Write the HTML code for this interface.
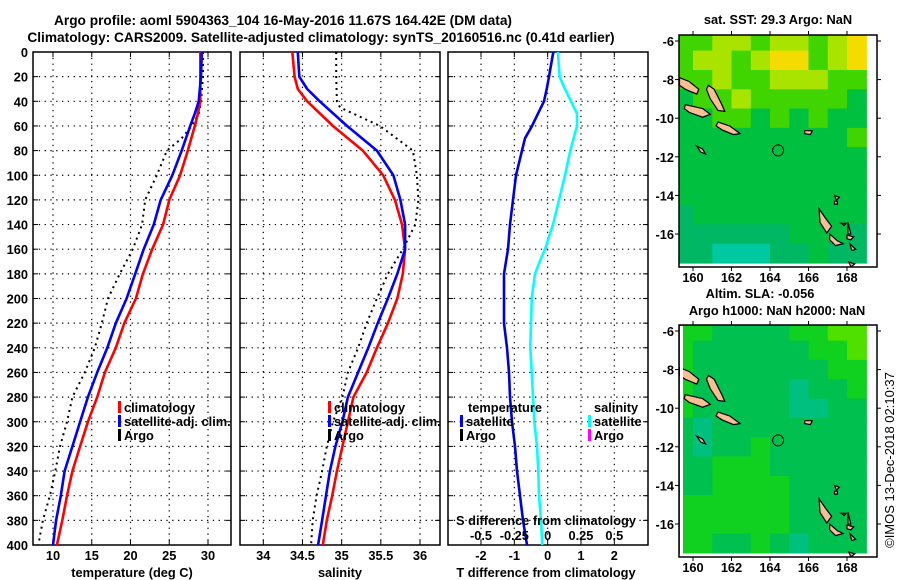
<!DOCTYPE html>
<html><head><meta charset="utf-8"><style>
html,body{margin:0;padding:0;background:#fff;width:900px;height:580px;overflow:hidden}
svg{display:block;font-family:"Liberation Sans",sans-serif;font-weight:bold}
</style></head><body>
<svg id="fig" width="900" height="580" viewBox="0 0 900 580">
<g>
<text x="283" y="25" font-size="13.7" text-anchor="middle">Argo profile: aoml 5904363_104 16-May-2016 11.67S 164.42E (DM data)</text>
<text x="321" y="42" font-size="13.7" text-anchor="middle">Climatology: CARS2009. Satellite-adjusted climatology: synTS_20160516.nc (0.41d earlier)</text>
</g>
<g id="p1"></g>
<g id="p2"></g>
<g id="p3"></g>
<g id="m1"></g>
<g id="m2"></g>
<text transform="translate(894,460) rotate(-90)" font-size="13" font-weight="normal" text-anchor="middle">©IMOS 13-Dec-2018 02:10:37</text>
</svg>
<script>
// ---- profile data ----
const tDepths = [0,20,40,50,60,80,100,120,140,160,180,200,220,240,260,280,300,320,340,360,380,400];
const tempClim = [29.0,29.0,29.0,28.7,28.3,27.4,26.4,25.0,24.2,22.8,21.6,20.7,19.2,18.1,16.7,15.7,14.5,13.5,12.5,11.8,11.2,10.5];
const tempSat = [29.2,29.1,28.8,28.3,27.7,26.6,25.4,23.9,23.0,21.7,20.6,19.5,18.1,17.0,15.7,14.5,13.5,12.5,11.5,11.0,10.4,10.0];
const argoTDepths = [0,20,40,50,60,70,80,100,120,140,160,180,200,220,240,260,280,300,320,340,360,380,400];
const tempArgo = [29.35,29.35,29.1,28.8,27.9,26.6,24.7,23.4,21.9,21.5,20.3,18.6,17.1,16.3,15.4,14.1,12.5,11.8,10.9,10.3,9.6,8.7,8.1];
const sDepths = [0,20,30,40,60,80,100,120,140,160,180,200,220,240,260,280,300,320,340,360,380,400];
const salClim = [34.37,34.40,34.44,34.56,34.89,35.27,35.53,35.68,35.77,35.81,35.78,35.71,35.59,35.45,35.32,35.15,35.08,35.01,34.94,34.88,34.81,34.76];
const salSat = [34.44,34.46,34.56,34.72,35.07,35.45,35.66,35.75,35.81,35.81,35.71,35.59,35.46,35.34,35.21,35.08,35.01,34.92,34.85,34.80,34.75,34.70];
const argoSDepths = [0,20,40,45,60,80,100,120,140,160,180,200,220,240,260,280,300,320,340,360,380,400];
const salArgo = [34.93,34.93,34.94,34.98,35.49,35.91,35.96,35.98,35.94,35.78,35.59,35.45,35.32,35.21,35.08,35.01,34.89,34.81,34.75,34.68,34.63,34.61];
const dDepths = [0,20,30,40,50,60,70,80,100,120,140,160,170,180,200,220,240,260,280,300,320,340,360,380,400];
const tDiffSat = [0.17,0.04,-0.03,-0.11,-0.29,-0.47,-0.68,-0.77,-0.95,-1.04,-1.13,-1.19,-1.25,-1.31,-1.31,-1.31,-1.22,-1.16,-1.13,-1.07,-0.98,-0.92,-0.83,-0.74,-0.62];
const sDiffSat = [0.077,0.09,0.13,0.175,0.22,0.22,0.195,0.17,0.13,0.085,0.04,-0.02,-0.06,-0.095,-0.12,-0.125,-0.13,-0.12,-0.11,-0.10,-0.08,-0.07,-0.065,-0.05,-0.04];
const depthTicks = [0,20,40,60,80,100,120,140,160,180,200,220,240,260,280,300,320,340,360,380,400];
const tempTicks = [10,15,20,25,30];
const salTicks = [34,34.5,35,35.5,36];
const salTickLabels = ["34","34.5","35","35.5","36"];
const tDiffTicks = [-2,-1,0,1,2];
const sDiffTicks = [-0.5,-0.25,0,0.25,0.5];
const sDiffTickLabels = ["-0.5","-0.25","0","0.25","0.5"];
// ---- map data (coarse cells, rows lat -6..-17, cols lon 159.5..169.5) ----
const mapLats = [-6,-7,-8,-9,-10,-11,-12,-13,-14,-15,-16,-17];
const mapLons = [159.5,160.5,161.5,162.5,163.5,164.5,165.5,166.5,167.5,168.5];
const sstLevels = [
[3,3,4,4,3,4,4,3,4,5],
[3,4,4,3,4,5,5,3,4,5],
[3,3,4,3,3,4,4,4,3,3],
[2,3,3,4,3,3,3,3,3,2],
[2,2,3,3,2,3,2,3,2,2],
[2,2,2,2,2,2,2,2,2,3],
[2,2,2,2,2,2,2,2,2,2],
[2,2,2,2,2,2,2,2,2,2],
[2,2,2,2,2,2,2,2,2,2],
[1,2,2,2,2,2,2,2,2,2],
[1,1,1,1,1,1,2,2,2,1],
[1,1,0,0,0,1,1,2,1,1]];
const slaLevels = [
[2,2,1,1,1,1,2,2,3,3],
[2,1,1,1,1,1,1,2,2,3],
[2,1,1,1,1,1,1,1,2,2],
[2,1,1,1,1,1,0,1,1,2],
[2,1,1,1,1,1,0,0,1,1],
[1,0,1,1,1,1,1,1,1,1],
[1,0,1,1,2,1,1,1,1,1],
[1,1,2,2,2,1,1,1,1,1],
[1,1,2,2,2,2,1,1,1,1],
[2,2,2,2,2,2,1,1,1,1],
[2,2,2,2,2,2,1,1,1,1],
[2,2,1,1,2,1,0,1,1,1]];
const latTicks = [-6,-8,-10,-12,-14,-16];
const lonTicks = [160,162,164,166,168];
const argoLon = 164.42, argoLat = -11.67;
const islands = [
[[159.3,-7.9],[159.8,-8.1],[160.3,-8.5],[160.2,-8.75],[159.6,-8.5],[159.3,-8.3]],
[[160.8,-8.3],[161.1,-8.5],[161.5,-9.3],[161.65,-9.65],[161.3,-9.6],[160.9,-9.0],[160.7,-8.5]],
[[159.6,-9.3],[160.5,-9.5],[160.9,-9.8],[160.5,-9.95],[159.8,-9.7],[159.55,-9.5]],
[[161.3,-10.2],[161.9,-10.4],[162.45,-10.8],[162.1,-10.85],[161.5,-10.6],[161.2,-10.4]],
[[160.2,-11.45],[160.5,-11.6],[160.65,-11.85],[160.4,-11.75]],
[[165.8,-10.65],[166.2,-10.65],[166.1,-10.85],[165.8,-10.8]],
[[166.55,-14.7],[166.9,-15.2],[167.2,-15.6],[166.95,-15.95],[166.6,-15.4]],
[[167.1,-16.0],[167.5,-16.35],[167.8,-16.5],[167.4,-16.6],[167.1,-16.3]],
[[168.05,-15.4],[168.2,-16.0],[168.05,-16.0]],
[[167.7,-15.45],[167.95,-15.45],[167.85,-15.55]],
[[168.0,-16.05],[168.35,-16.15],[168.2,-16.3],[168.0,-16.25]],
[[168.15,-16.5],[168.45,-16.8],[168.25,-16.85]],
[[168.1,-17.45],[168.4,-17.55],[168.2,-17.7]],
[[167.35,-14.0],[167.6,-14.1],[167.45,-14.25]],
[[167.35,-14.3],[167.5,-14.3],[167.5,-14.45],[167.35,-14.45]]];

const NS = "http://www.w3.org/2000/svg";
const FS = 12.8;
function mk(parent, tag, attrs){const e=document.createElementNS(NS,tag);for(const k in attrs)e.setAttribute(k,attrs[k]);parent.appendChild(e);return e;}
function txt(parent,x,y,s,size,anchor){const t=mk(parent,"text",{x:x,y:y,"font-size":size,"text-anchor":anchor||"middle"});t.textContent=s;return t;}

const TOP=52, BOT=545;
function yDepth(d){return TOP+(d/400)*(BOT-TOP);}
function linear(d0,d1,r0,r1){return v=>r0+(v-d0)/(d1-d0)*(r1-r0);}

function panelFrame(g,L,R,xs,ticks,showY){
  for(const t of ticks){
    const x=xs(t);
    const gl=mk(g,"line",{x1:x,y1:TOP,x2:x,y2:BOT,stroke:"#000","stroke-width":1.2,"stroke-dasharray":"1.3,4.5"});
    
    
    mk(g,"line",{x1:x,y1:TOP,x2:x,y2:TOP+5,stroke:"#000"});
    mk(g,"line",{x1:x,y1:BOT,x2:x,y2:BOT-5,stroke:"#000"});
  }
  for(const d of depthTicks){
    const y=yDepth(d);
    if(d>0&&d<400){
      const gl=mk(g,"line",{x1:L,y1:y,x2:R,y2:y,stroke:"#000","stroke-width":1.2,"stroke-dasharray":"1.3,4.5"});
      
      
    }
    mk(g,"line",{x1:L,y1:y,x2:L+5,y2:y,stroke:"#000"});
    mk(g,"line",{x1:R,y1:y,x2:R-5,y2:y,stroke:"#000"});
    if(showY){
      const t=txt(g,28,y+5,String(d),FS,"end");
      
      
    }
  }
  const fr=mk(g,"rect",{x:L,y:TOP,width:R-L,height:BOT-TOP,fill:"none",stroke:"#000","stroke-width":1.5});
  
  
}
function series(g,xs,vals,depths,color,dotted,name){
  let d="";
  for(let i=0;i<vals.length;i++){d+=(i?"L":"M")+xs(vals[i]).toFixed(1)+","+yDepth(depths[i]).toFixed(1);}
  const p=mk(g,"path",{d:d,fill:"none",stroke:color,"stroke-width":dotted?2:2.6,"stroke-dasharray":dotted?"2,4":"none","stroke-linejoin":"round"});
  
  
}
function legendItem(g,x,y,color,label,name){
  mk(g,"rect",{x:x,y:y-11,width:3,height:12,fill:color});
  const t=txt(g,x+6,y,label,FS,"start");
  
  
}

// Panel 1
(function(){
  const g=document.getElementById("p1");
  const L=33,R=231;
  const xs=linear(10,30,53,208);
  panelFrame(g,L,R,xs,tempTicks,true);
  series(g,xs,tempArgo,argoTDepths,"#000",true,"argo-temperature-line");
  series(g,xs,tempClim,tDepths,"#ff0000",false,"climatology-temperature-line");
  series(g,xs,tempSat,tDepths,"#0000ff",false,"satellite-temperature-line");
  for(const t of tempTicks){const e=txt(g,xs(t),560,String(t),FS);}
  const ti=txt(g,132,577,"temperature (deg C)",FS);
  legendItem(g,118,412,"#ff0000","climatology","legend-climatology");
  legendItem(g,118,426,"#0000ff","satellite-adj. clim.","legend-satellite-adj");
  legendItem(g,118,440,"#000","Argo","legend-argo");
})();
// Panel 2
(function(){
  const g=document.getElementById("p2");
  const L=240,R=440;
  const xs=linear(34,36,263.3,420);
  panelFrame(g,L,R,xs,salTicks,false);
  series(g,xs,salArgo,argoSDepths,"#000",true,"argo-salinity-line");
  series(g,xs,salClim,sDepths,"#ff0000",false,"climatology-salinity-line");
  series(g,xs,salSat,sDepths,"#0000ff",false,"satellite-salinity-line");
  salTicks.forEach((t,i)=>{const e=txt(g,xs(t),560,salTickLabels[i],FS);});
  const ti=txt(g,340,577,"salinity",FS);
  legendItem(g,328,412,"#ff0000","climatology","legend-climatology");
  legendItem(g,328,426,"#0000ff","satellite-adj. clim.","legend-satellite-adj");
  legendItem(g,328,440,"#000","Argo","legend-argo");
})();
// Panel 3
(function(){
  const g=document.getElementById("p3");
  const L=448,R=648;
  const xs=linear(-2,2,481,614.3);
  const xsS=linear(-0.5,0.5,481,614.3);
  panelFrame(g,L,R,xs,tDiffTicks,false);
  series(g,xs,tDiffSat,dDepths,"#0000dd",false,"temperature-difference-line");
  series(g,xsS,sDiffSat,dDepths,"#00ffff",false,"salinity-difference-line");
  tDiffTicks.forEach(t=>{const e=txt(g,xs(t),560,String(t),FS);});
  sDiffTicks.forEach((t,i)=>{const e=txt(g,xsS(t),540,sDiffTickLabels[i],FS);});
  const st=txt(g,546,525,"S difference from climatology",FS);
  const tt=txt(g,546,577,"T difference from climatology",FS);
  const lt=txt(g,468,412,"temperature",FS,"start");
  legendItem(g,460,426,"#0000ff","satellite","legend-t-satellite");
  legendItem(g,460,440,"#000","Argo","legend-t-argo");
  const ls=txt(g,594,412,"salinity",FS,"start");
  legendItem(g,588,426,"#00ffff","satellite","legend-s-satellite");
  legendItem(g,588,440,"#ff00ff","Argo","legend-s-argo");
})();

// Maps
function drawMap(id,top,levels,palette,titles){
  const g=document.getElementById(id);
  const L=679,R=877,B=top+232;
  const lx=linear(160,168,693,847);
  const ly=linear(-6,-16,top+6,top+199);
  const clip=mk(g,"clipPath",{id:id+"clip"});
  mk(clip,"rect",{x:L,y:top,width:R-L,height:B-top});
  const cells=mk(g,"g",{"clip-path":"url(#"+id+"clip)"});
  for(let r=0;r<mapLats.length;r++){
    for(let c=0;c<mapLons.length;c++){
      const x0=lx(mapLons[c]-0.5), y0=ly(mapLats[r]+0.5);
      const cell=mk(cells,"rect",{x:x0.toFixed(1),y:y0.toFixed(1),width:(lx(1)-lx(0)+0.6).toFixed(1),height:(ly(-1)-ly(0)+0.6).toFixed(1),fill:palette[levels[r][c]]});
      
      
    }
  }
  for(const isl of islands){
    const pts=isl.map(p=>lx(p[0]).toFixed(1)+","+ly(p[1]).toFixed(1)).join(" ");
    const pg=mk(cells,"polygon",{points:pts,fill:"#f8c090",stroke:"#000","stroke-width":1.2});
    
    
  }
  const ci=mk(g,"circle",{cx:lx(argoLon),cy:ly(argoLat),r:5.5,fill:"none",stroke:"#000","stroke-width":1});
  
  
  mk(g,"rect",{x:L,y:top,width:R-L,height:B-top,fill:"none",stroke:"#000","stroke-width":1.5});
  for(const t of latTicks){
    const y=ly(t);
    mk(g,"line",{x1:L-4,y1:y,x2:L,y2:y,stroke:"#000"});
    mk(g,"line",{x1:R,y1:y,x2:R+4,y2:y,stroke:"#000"});
    const e=txt(g,L-5,y+5,String(t),FS,"end");
    
    
  }
  for(const t of lonTicks){
    const x=lx(t);
    mk(g,"line",{x1:x,y1:top-4,x2:x,y2:top,stroke:"#000"});
    mk(g,"line",{x1:x,y1:B,x2:x,y2:B+4,stroke:"#000"});
    const e=txt(g,x,B+15,String(t),FS);
    
    
  }
  titles.forEach(tl=>{const e=txt(g,tl[0],tl[1],tl[2],FS);});
}
drawMap("m1",35,sstLevels,["#00c8a0","#00b864","#00c040","#40d400","#a8e400","#f4dc00"],[[778,24,"sat. SST: 29.3 Argo: NaN"]]);
drawMap("m2",325,slaLevels,["#00c080","#00c050","#10d020","#50e000"],[[760,298,"Altim. SLA: -0.056"],[777,315,"Argo h1000: NaN h2000: NaN"]]);
(function(){const w=mk(document.getElementById("m2"),"rect",{x:680,y:326,width:3,height:230,fill:"#fff"});})();
</script>
</body></html>
